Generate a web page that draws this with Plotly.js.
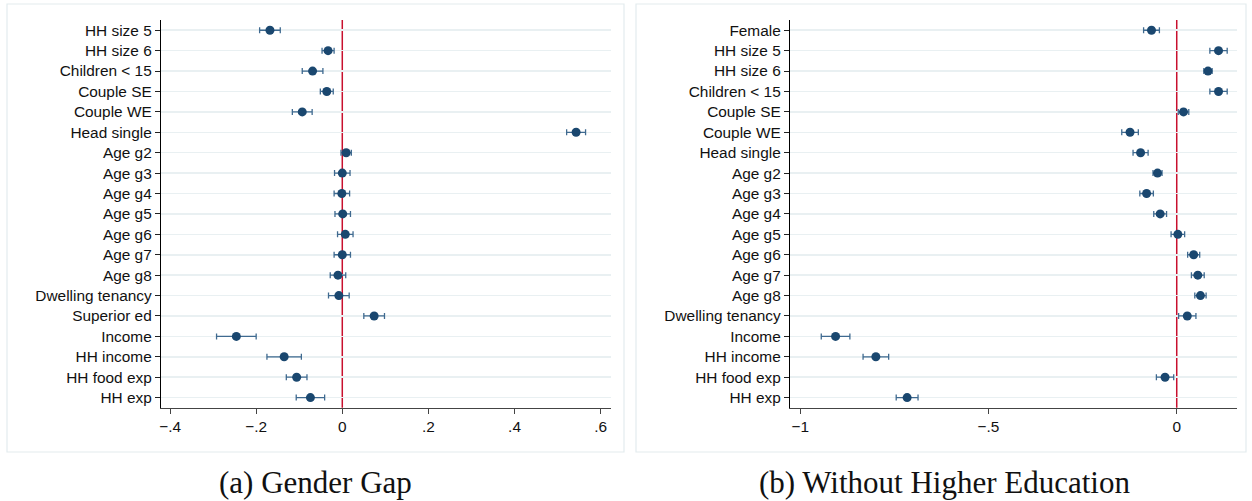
<!DOCTYPE html>
<html>
<head>
<meta charset="utf-8">
<script src="https://cdn.plot.ly/plotly-3.0.1.min.js"></script>
<style>html,body{margin:0;padding:0;background:#fff;}#chart{width:1252px;height:501px;}</style>
</head>
<body>
<div id="chart"></div>
<script>
// Panel (a) Gender Gap
const catsA = ["HH size 5","HH size 6","Children < 15","Couple SE","Couple WE","Head single","Age g2","Age g3","Age g4","Age g5","Age g6","Age g7","Age g8","Dwelling tenancy","Superior ed","Income","HH income","HH food exp","HH exp"];
const coefA = [-0.168,-0.033,-0.069,-0.036,-0.093,0.543,0.009,0.000,-0.001,0.001,0.007,0.000,-0.010,-0.008,0.074,-0.246,-0.135,-0.106,-0.074];
const ciA   = [0.024,0.014,0.024,0.015,0.023,0.022,0.012,0.018,0.018,0.018,0.018,0.019,0.018,0.024,0.024,0.046,0.040,0.024,0.033];
const ticksA = [-0.4,-0.2,0,0.2,0.4,0.6];
const tickTextA = ["\u2212.4","\u2212.2","0",".2",".4",".6"];

// Panel (b) Without Higher Education
const catsB = ["Female","HH size 5","HH size 6","Children < 15","Couple SE","Couple WE","Head single","Age g2","Age g3","Age g4","Age g5","Age g6","Age g7","Age g8","Dwelling tenancy","Income","HH income","HH food exp","HH exp"];
const coefB = [-0.067,0.111,0.083,0.111,0.018,-0.124,-0.096,-0.051,-0.080,-0.044,0.003,0.045,0.056,0.063,0.028,-0.906,-0.799,-0.031,-0.716];
const ciB   = [0.021,0.023,0.011,0.023,0.014,0.022,0.020,0.012,0.018,0.017,0.018,0.016,0.017,0.015,0.023,0.038,0.034,0.023,0.029];
const ticksB = [-1,-0.5,0];
const tickTextB = ["\u22121","\u2212.5","0"];

const captionA = "(a) Gender Gap";
const captionB = "(b) Without Higher Education";

const navy = "#1a476f";
const ciColor = "#3f6a90";
const grid = "#e9f0f2";
const red = "#c8102e";

function trace(cats, coef, ci, xa, ya) {
  return {
    type: "scatter", mode: "markers",
    x: coef, y: cats, xaxis: xa, yaxis: ya,
    marker: {color: navy, size: 9},
    error_x: {type: "data", array: ci, visible: true, color: ciColor, thickness: 1.3, width: 3},
    hoverinfo: "x+y", showlegend: false
  };
}

const tickFont = {family: "Liberation Sans, Arial, sans-serif", size: 15.4, color: "#111"};

function yax(cats) {
  return {
    type: "category", categoryorder: "array", categoryarray: cats,
    range: [cats.length - 0.5, -0.5], domain: [0.186, 0.960],
    showgrid: true, gridcolor: grid, gridwidth: 1.5,
    showline: true, linecolor: "#000", linewidth: 1.2,
    ticks: "outside", ticklen: 5, tickcolor: "#222", tickwidth: 1,
    tickfont: tickFont, zeroline: false, fixedrange: true
  };
}
function xax(dom, range, tv, tt, anchor) {
  return {
    domain: dom, range: range, anchor: anchor,
    tickmode: "array", tickvals: tv, ticktext: tt,
    showgrid: false, zeroline: false,
    showline: true, linecolor: "#444", linewidth: 1.2,
    ticks: "outside", ticklen: 5, tickcolor: "#444", tickwidth: 1,
    tickfont: tickFont, fixedrange: true
  };
}

const data = [trace(catsA, coefA, ciA, "x", "y"), trace(catsB, coefB, ciB, "x2", "y2")];

const capFont = {family: "Liberation Serif, Times New Roman, serif", size: 31, color: "#111"};

const layout = {
  width: 1252, height: 501,
  margin: {l: 0, r: 0, t: 0, b: 0},
  paper_bgcolor: "#fff", plot_bgcolor: "#fff",
  xaxis: xax([0.1286, 0.488], [-0.421, 0.624], ticksA, tickTextA, "y"),
  yaxis: Object.assign(yax(catsA), {anchor: "x"}),
  xaxis2: xax([0.631, 0.988], [-1.027, 0.160], ticksB, tickTextB, "y2"),
  yaxis2: Object.assign(yax(catsB), {anchor: "x2"}),
  shapes: [
    {type: "rect", xref: "paper", yref: "paper", x0: 7/1252, x1: 624/1252, y0: (501-452)/501, y1: (501-4)/501, line: {color: "#e3ecee", width: 1.2}, layer: "below"},
    {type: "rect", xref: "paper", yref: "paper", x0: 636/1252, x1: 1246/1252, y0: (501-452)/501, y1: (501-4)/501, line: {color: "#e3ecee", width: 1.2}, layer: "below"},
    {type: "line", xref: "x", yref: "y domain", x0: 0, x1: 0, y0: 0, y1: 1, line: {color: red, width: 1.5}, layer: "below"},
    {type: "line", xref: "x2", yref: "y2 domain", x0: 0, x1: 0, y0: 0, y1: 1, line: {color: red, width: 1.5}, layer: "below"}
  ],
  annotations: [
    {text: captionA, xref: "paper", yref: "paper", x: 315/1252, y: (501-482)/501, xanchor: "center", yanchor: "middle", showarrow: false, font: capFont},
    {text: captionB, xref: "paper", yref: "paper", x: 944/1252, y: (501-482)/501, xanchor: "center", yanchor: "middle", showarrow: false, font: capFont}
  ]
};

Plotly.newPlot("chart", data, layout, {displayModeBar: false, staticPlot: true});
</script>
</body>
</html>
